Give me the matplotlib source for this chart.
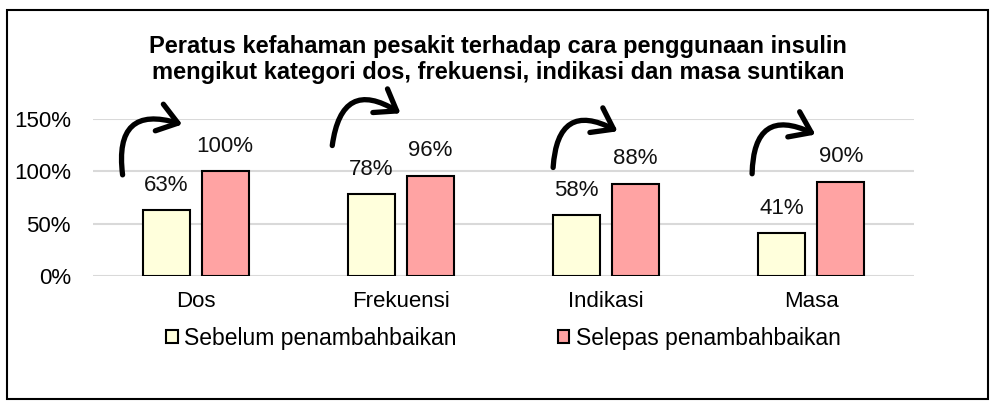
import matplotlib
matplotlib.use("Agg")
import matplotlib.pyplot as plt
from matplotlib.patches import FancyArrowPatch, Rectangle
import numpy as np

categories = ["Dos", "Frekuensi", "Indikasi", "Masa"]
before = [0.63, 0.78, 0.58, 0.41]
after = [1.00, 0.96, 0.88, 0.90]
series_names = ["Sebelum penambahbaikan", "Selepas penambahbaikan"]
yticks = [0, 0.5, 1.0, 1.5]
ytick_labels = ["0%", "50%", "100%", "150%"]
title = ("Peratus kefahaman pesakit terhadap cara penggunaan insulin\n"
         "mengikut kategori dos, frekuensi, indikasi dan masa suntikan")

# decorative curved arrows (start offset, start y, tip offset, tip y) relative to category
arrow_start_dx = [-0.354, -0.336, -0.259, -0.289]
arrow_start_y = [0.94, 1.22, 1.01, 0.95]
arrow_end_dx = [-0.052, 0.010, 0.068, 0.032]
arrow_end_y = [1.44, 1.54, 1.37, 1.34]

plt.rcParams['font.family'] = ['Liberation Sans', 'DejaVu Sans']

fig = plt.figure(figsize=(9.93, 4.04), dpi=100)
ax = fig.add_axes([93/993, 1-276/404, (914-93)/993, (276-119)/404])

x = np.arange(len(categories))
w = 0.229
off = 0.144
c_before = "#FFFFDC"
c_after = "#FFA3A3"
b1 = ax.bar(x - off, before, w, color=c_before, edgecolor="black", linewidth=1.5, zorder=3,
            label=series_names[0])
b2 = ax.bar(x + off, after, w, color=c_after, edgecolor="black", linewidth=1.5, zorder=3,
            label=series_names[1])

for bars, vals in ((b1, before), (b2, after)):
    for r, v in zip(bars, vals):
        ax.annotate(f"{round(v*100)}%", (r.get_x() + r.get_width()/2, v),
                    xytext=(0, 18), textcoords="offset points",
                    ha="center", va="center", fontsize=16, color="#111111")

ax.set_xlim(-0.5, len(categories) - 0.5)
ax.set_ylim(0, 1.5)
ax.set_yticks(yticks)
ax.set_yticklabels(ytick_labels)
ax.set_xticks(x)
ax.set_xticklabels(categories)
ax.tick_params(axis='y', length=0, pad=16, labelsize=16)
ax.tick_params(axis='x', length=0, pad=11, labelsize=16)
ax.grid(axis='y', color="#D9D9D9", linewidth=1.5, zorder=0)
for s in ax.spines.values():
    s.set_visible(False)

for i in range(len(categories)):
    arr = FancyArrowPatch((i + arrow_start_dx[i], arrow_start_y[i]),
                          (i + arrow_end_dx[i], arrow_end_y[i]),
                          connectionstyle="arc3,rad=-0.8",
                          arrowstyle="->,head_length=0.7,head_width=0.5",
                          mutation_scale=20, linewidth=3.8, color="black",
                          clip_on=False, zorder=5)
    ax.add_patch(arr)

ax.legend(loc="center", bbox_to_anchor=(0.5, -(338-276)/(276-119)),
          ncol=2, frameon=False, fontsize=16.5, handlelength=0.5, handleheight=0.5,
          handletextpad=0.3, columnspacing=4.4, borderaxespad=0)

fig.text(498/993, 1-59.5/404, title, ha="center", va="center", fontsize=17,
         fontweight="bold", linespacing=1.22)

fig.patches.append(Rectangle((7/993, 1-399/404), (988-7)/993, (399-10)/404,
                             transform=fig.transFigure, fill=False,
                             edgecolor="black", linewidth=1.5))

fig.savefig("out.png", dpi=100)
